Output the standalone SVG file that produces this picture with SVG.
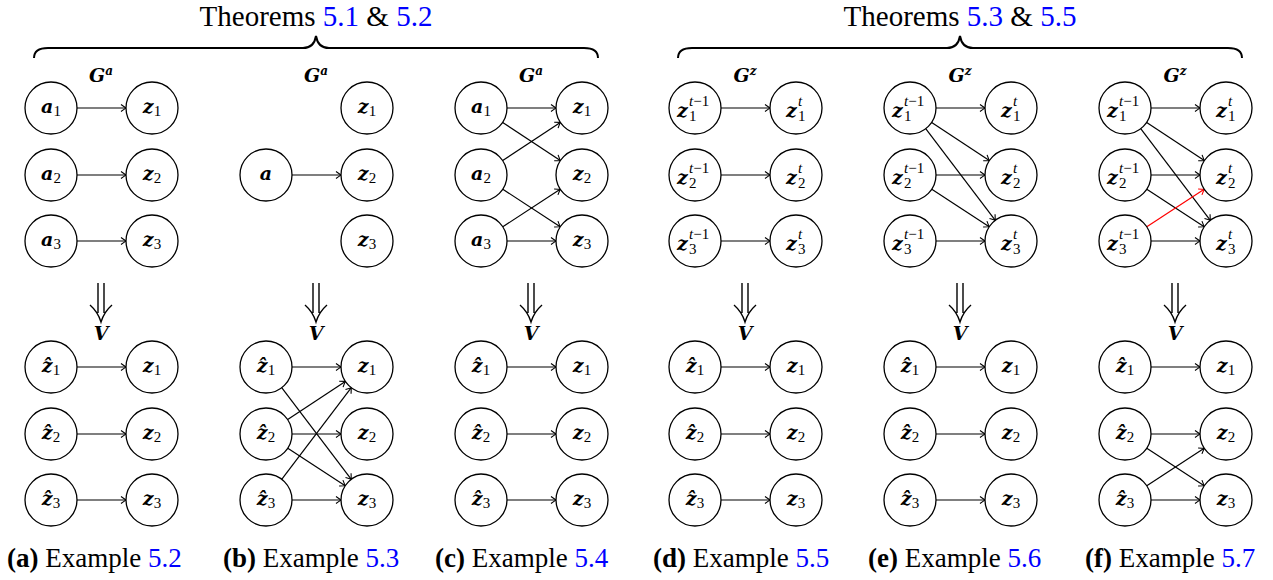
<svg xmlns="http://www.w3.org/2000/svg" width="1273" height="580" viewBox="0 0 1273 580">
<style>
.n circle{fill:#fff;stroke:#000;stroke-width:1.3}
.m{font-family:"DejaVu Serif",serif;font-weight:bold;font-style:italic;font-size:19px}
.s{font-family:"Liberation Serif",serif;font-size:15px;font-weight:normal;font-style:normal}
.si{font-style:italic}
.e{stroke:#000;stroke-width:1.2;fill:none;marker-end:url(#ah)}
.red{stroke:#f00;marker-end:url(#ahr)}
.cap{font-family:"Liberation Serif",serif;font-size:27px}
.b{font-weight:bold}
.lnk{fill:#0000ff}
.ttl{font-family:"Liberation Serif",serif;font-size:29px}
.brace{fill:none;stroke:#000;stroke-width:2}
.darr{fill:none;stroke:#000;stroke-width:1.4}
.g{font-family:"DejaVu Serif",serif;font-weight:bold;font-style:italic;font-size:19px}
.gs{font-size:12px}
</style>
<defs>
<marker id="ah" viewBox="-6 -5 8 10" refX="0" refY="0" markerWidth="8" markerHeight="10" markerUnits="userSpaceOnUse" orient="auto" overflow="visible"><path d="M-5,-3.5 Q-1.5,-1 0,0 Q-1.5,1 -5,3.5" fill="none" stroke="#000" stroke-width="1.1"/></marker>
<marker id="ahr" viewBox="-6 -5 8 10" refX="0" refY="0" markerWidth="8" markerHeight="10" markerUnits="userSpaceOnUse" orient="auto" overflow="visible"><path d="M-5,-3.5 Q-1.5,-1 0,0 Q-1.5,1 -5,3.5" fill="none" stroke="#f00" stroke-width="1.1"/></marker>
</defs>

<g id="titles">
<text class="ttl" x="316" y="26" text-anchor="middle">Theorems <tspan class="lnk">5.1</tspan> &amp; <tspan class="lnk">5.2</tspan></text>
<path class="brace" d="M34,58 Q34,48 48,48 L303,48 Q314,48 316,36 Q318,48 329,48 L584,48 Q598,48 598,58"/>
<text class="ttl" x="960" y="26" text-anchor="middle">Theorems <tspan class="lnk">5.3</tspan> &amp; <tspan class="lnk">5.5</tspan></text>
<path class="brace" d="M678,58 Q678,48 692,48 L947,48 Q958,48 960,36 Q962,48 973,48 L1228,48 Q1242,48 1242,58"/>
</g>

<g id="graph-labels">
<text class="g" x="101" y="82" text-anchor="middle">G<tspan class="gs" dy="-7">a</tspan></text>
<text class="g" x="316" y="82" text-anchor="middle">G<tspan class="gs" dy="-7">a</tspan></text>
<text class="g" x="531" y="82" text-anchor="middle">G<tspan class="gs" dy="-7">a</tspan></text>
<text class="g" x="745" y="82" text-anchor="middle">G<tspan class="gs" dy="-7">z</tspan></text>
<text class="g" x="960" y="82" text-anchor="middle">G<tspan class="gs" dy="-7">z</tspan></text>
<text class="g" x="1175" y="82" text-anchor="middle">G<tspan class="gs" dy="-7">z</tspan></text>
</g>

<g id="transforms">
<path class="darr" d="M98,283V313M104,283V313M90,305Q98,312 101,322Q104,312 112,305"/>
<path class="darr" d="M313,283V313M319,283V313M305,305Q313,312 316,322Q319,312 327,305"/>
<path class="darr" d="M528,283V313M534,283V313M520,305Q528,312 531,322Q534,312 542,305"/>
<path class="darr" d="M742,283V313M748,283V313M734,305Q742,312 745,322Q748,312 756,305"/>
<path class="darr" d="M957,283V313M963,283V313M949,305Q957,312 960,322Q963,312 971,305"/>
<path class="darr" d="M1172,283V313M1178,283V313M1164,305Q1172,312 1175,322Q1178,312 1186,305"/>
<text class="g" x="101" y="340" text-anchor="middle">V</text>
<text class="g" x="316" y="340" text-anchor="middle">V</text>
<text class="g" x="531" y="340" text-anchor="middle">V</text>
<text class="g" x="745" y="340" text-anchor="middle">V</text>
<text class="g" x="960" y="340" text-anchor="middle">V</text>
<text class="g" x="1175" y="340" text-anchor="middle">V</text>
</g>

<g id="connectors">
<line class="e" x1="77" y1="108" x2="126" y2="108"/>
<line class="e" x1="77" y1="175" x2="126" y2="175"/>
<line class="e" x1="77" y1="241" x2="126" y2="241"/>
<line class="e" x1="292" y1="175" x2="341" y2="175"/>
<line class="e" x1="507" y1="108" x2="556" y2="108"/>
<line class="e" x1="502.7" y1="122.4" x2="560.3" y2="160.6"/>
<line class="e" x1="502.7" y1="160.6" x2="560.3" y2="122.4"/>
<line class="e" x1="502.8" y1="189.2" x2="560.2" y2="226.8"/>
<line class="e" x1="502.8" y1="226.8" x2="560.2" y2="189.2"/>
<line class="e" x1="507" y1="241" x2="556" y2="241"/>
<line class="e" x1="721" y1="108" x2="770" y2="108"/>
<line class="e" x1="721" y1="175" x2="770" y2="175"/>
<line class="e" x1="721" y1="241" x2="770" y2="241"/>
<line class="e" x1="936" y1="108" x2="985" y2="108"/>
<line class="e" x1="931.7" y1="122.4" x2="989.3" y2="160.6"/>
<line class="e" x1="925.7" y1="128.7" x2="995.3" y2="220.3"/>
<line class="e" x1="936" y1="175" x2="985" y2="175"/>
<line class="e" x1="931.8" y1="189.2" x2="989.2" y2="226.8"/>
<line class="e" x1="936" y1="241" x2="985" y2="241"/>
<line class="e" x1="1151" y1="108" x2="1200" y2="108"/>
<line class="e" x1="1146.7" y1="122.4" x2="1204.3" y2="160.6"/>
<line class="e" x1="1140.7" y1="128.7" x2="1210.3" y2="220.3"/>
<line class="e" x1="1151" y1="175" x2="1200" y2="175"/>
<line class="e" x1="1146.8" y1="189.2" x2="1204.2" y2="226.8"/>
<line class="e red" x1="1146.8" y1="226.8" x2="1204.2" y2="189.2"/>
<line class="e" x1="1151" y1="241" x2="1200" y2="241"/>
<line class="e" x1="77" y1="367" x2="126" y2="367"/>
<line class="e" x1="77" y1="434" x2="126" y2="434"/>
<line class="e" x1="77" y1="500" x2="126" y2="500"/>
<line class="e" x1="292" y1="367" x2="341" y2="367"/>
<line class="e" x1="281.7" y1="387.7" x2="351.3" y2="479.3"/>
<line class="e" x1="287.7" y1="419.6" x2="345.3" y2="381.4"/>
<line class="e" x1="292" y1="434" x2="341" y2="434"/>
<line class="e" x1="287.8" y1="448.2" x2="345.2" y2="485.8"/>
<line class="e" x1="281.7" y1="479.3" x2="351.3" y2="387.7"/>
<line class="e" x1="292" y1="500" x2="341" y2="500"/>
<line class="e" x1="507" y1="367" x2="556" y2="367"/>
<line class="e" x1="507" y1="434" x2="556" y2="434"/>
<line class="e" x1="507" y1="500" x2="556" y2="500"/>
<line class="e" x1="721" y1="367" x2="770" y2="367"/>
<line class="e" x1="721" y1="434" x2="770" y2="434"/>
<line class="e" x1="721" y1="500" x2="770" y2="500"/>
<line class="e" x1="936" y1="367" x2="985" y2="367"/>
<line class="e" x1="936" y1="434" x2="985" y2="434"/>
<line class="e" x1="936" y1="500" x2="985" y2="500"/>
<line class="e" x1="1151" y1="367" x2="1200" y2="367"/>
<line class="e" x1="1151" y1="434" x2="1200" y2="434"/>
<line class="e" x1="1146.8" y1="448.2" x2="1204.2" y2="485.8"/>
<line class="e" x1="1146.8" y1="485.8" x2="1204.2" y2="448.2"/>
<line class="e" x1="1151" y1="500" x2="1200" y2="500"/>
</g>

<g id="a-a1" class="n"><circle cx="51" cy="108" r="26"/><text class="m" x="51" y="113" text-anchor="middle">a<tspan class="s" dy="3">1</tspan></text></g>
<g id="a-a2" class="n"><circle cx="51" cy="175" r="26"/><text class="m" x="51" y="180" text-anchor="middle">a<tspan class="s" dy="3">2</tspan></text></g>
<g id="a-a3" class="n"><circle cx="51" cy="241" r="26"/><text class="m" x="51" y="246" text-anchor="middle">a<tspan class="s" dy="3">3</tspan></text></g>
<g id="a-z1" class="n"><circle cx="152" cy="108" r="26"/><text class="m" x="152" y="113" text-anchor="middle">z<tspan class="s" dy="3">1</tspan></text></g>
<g id="a-z2" class="n"><circle cx="152" cy="175" r="26"/><text class="m" x="152" y="180" text-anchor="middle">z<tspan class="s" dy="3">2</tspan></text></g>
<g id="a-z3" class="n"><circle cx="152" cy="241" r="26"/><text class="m" x="152" y="246" text-anchor="middle">z<tspan class="s" dy="3">3</tspan></text></g>
<g id="b-a" class="n"><circle cx="266" cy="175" r="26"/><text class="m" x="266" y="180" text-anchor="middle">a</text></g>
<g id="b-z1" class="n"><circle cx="367" cy="108" r="26"/><text class="m" x="367" y="113" text-anchor="middle">z<tspan class="s" dy="3">1</tspan></text></g>
<g id="b-z2" class="n"><circle cx="367" cy="175" r="26"/><text class="m" x="367" y="180" text-anchor="middle">z<tspan class="s" dy="3">2</tspan></text></g>
<g id="b-z3" class="n"><circle cx="367" cy="241" r="26"/><text class="m" x="367" y="246" text-anchor="middle">z<tspan class="s" dy="3">3</tspan></text></g>
<g id="c-a1" class="n"><circle cx="481" cy="108" r="26"/><text class="m" x="481" y="113" text-anchor="middle">a<tspan class="s" dy="3">1</tspan></text></g>
<g id="c-a2" class="n"><circle cx="481" cy="175" r="26"/><text class="m" x="481" y="180" text-anchor="middle">a<tspan class="s" dy="3">2</tspan></text></g>
<g id="c-a3" class="n"><circle cx="481" cy="241" r="26"/><text class="m" x="481" y="246" text-anchor="middle">a<tspan class="s" dy="3">3</tspan></text></g>
<g id="c-z1" class="n"><circle cx="582" cy="108" r="26"/><text class="m" x="582" y="113" text-anchor="middle">z<tspan class="s" dy="3">1</tspan></text></g>
<g id="c-z2" class="n"><circle cx="582" cy="175" r="26"/><text class="m" x="582" y="180" text-anchor="middle">z<tspan class="s" dy="3">2</tspan></text></g>
<g id="c-z3" class="n"><circle cx="582" cy="241" r="26"/><text class="m" x="582" y="246" text-anchor="middle">z<tspan class="s" dy="3">3</tspan></text></g>
<g id="d-zp1" class="n"><circle cx="695" cy="108" r="26"/><text class="m" x="677" y="117">z<tspan class="s" x="689" y="106"><tspan class="si">t</tspan>−1</tspan><tspan class="s" x="689" y="121">1</tspan></text></g>
<g id="d-zp2" class="n"><circle cx="695" cy="175" r="26"/><text class="m" x="677" y="184">z<tspan class="s" x="689" y="173"><tspan class="si">t</tspan>−1</tspan><tspan class="s" x="689" y="188">2</tspan></text></g>
<g id="d-zp3" class="n"><circle cx="695" cy="241" r="26"/><text class="m" x="677" y="250">z<tspan class="s" x="689" y="239"><tspan class="si">t</tspan>−1</tspan><tspan class="s" x="689" y="254">3</tspan></text></g>
<g id="d-zt1" class="n"><circle cx="796" cy="108" r="26"/><text class="m" x="786" y="117">z<tspan class="s si" x="798" y="106">t</tspan><tspan class="s" x="798" y="121">1</tspan></text></g>
<g id="d-zt2" class="n"><circle cx="796" cy="175" r="26"/><text class="m" x="786" y="184">z<tspan class="s si" x="798" y="173">t</tspan><tspan class="s" x="798" y="188">2</tspan></text></g>
<g id="d-zt3" class="n"><circle cx="796" cy="241" r="26"/><text class="m" x="786" y="250">z<tspan class="s si" x="798" y="239">t</tspan><tspan class="s" x="798" y="254">3</tspan></text></g>
<g id="e-zp1" class="n"><circle cx="910" cy="108" r="26"/><text class="m" x="892" y="117">z<tspan class="s" x="904" y="106"><tspan class="si">t</tspan>−1</tspan><tspan class="s" x="904" y="121">1</tspan></text></g>
<g id="e-zp2" class="n"><circle cx="910" cy="175" r="26"/><text class="m" x="892" y="184">z<tspan class="s" x="904" y="173"><tspan class="si">t</tspan>−1</tspan><tspan class="s" x="904" y="188">2</tspan></text></g>
<g id="e-zp3" class="n"><circle cx="910" cy="241" r="26"/><text class="m" x="892" y="250">z<tspan class="s" x="904" y="239"><tspan class="si">t</tspan>−1</tspan><tspan class="s" x="904" y="254">3</tspan></text></g>
<g id="e-zt1" class="n"><circle cx="1011" cy="108" r="26"/><text class="m" x="1001" y="117">z<tspan class="s si" x="1013" y="106">t</tspan><tspan class="s" x="1013" y="121">1</tspan></text></g>
<g id="e-zt2" class="n"><circle cx="1011" cy="175" r="26"/><text class="m" x="1001" y="184">z<tspan class="s si" x="1013" y="173">t</tspan><tspan class="s" x="1013" y="188">2</tspan></text></g>
<g id="e-zt3" class="n"><circle cx="1011" cy="241" r="26"/><text class="m" x="1001" y="250">z<tspan class="s si" x="1013" y="239">t</tspan><tspan class="s" x="1013" y="254">3</tspan></text></g>
<g id="f-zp1" class="n"><circle cx="1125" cy="108" r="26"/><text class="m" x="1107" y="117">z<tspan class="s" x="1119" y="106"><tspan class="si">t</tspan>−1</tspan><tspan class="s" x="1119" y="121">1</tspan></text></g>
<g id="f-zp2" class="n"><circle cx="1125" cy="175" r="26"/><text class="m" x="1107" y="184">z<tspan class="s" x="1119" y="173"><tspan class="si">t</tspan>−1</tspan><tspan class="s" x="1119" y="188">2</tspan></text></g>
<g id="f-zp3" class="n"><circle cx="1125" cy="241" r="26"/><text class="m" x="1107" y="250">z<tspan class="s" x="1119" y="239"><tspan class="si">t</tspan>−1</tspan><tspan class="s" x="1119" y="254">3</tspan></text></g>
<g id="f-zt1" class="n"><circle cx="1226" cy="108" r="26"/><text class="m" x="1216" y="117">z<tspan class="s si" x="1228" y="106">t</tspan><tspan class="s" x="1228" y="121">1</tspan></text></g>
<g id="f-zt2" class="n"><circle cx="1226" cy="175" r="26"/><text class="m" x="1216" y="184">z<tspan class="s si" x="1228" y="173">t</tspan><tspan class="s" x="1228" y="188">2</tspan></text></g>
<g id="f-zt3" class="n"><circle cx="1226" cy="241" r="26"/><text class="m" x="1216" y="250">z<tspan class="s si" x="1228" y="239">t</tspan><tspan class="s" x="1228" y="254">3</tspan></text></g>

<g id="a-zh1" class="n"><circle cx="51" cy="367" r="26"/><text class="m" x="51" y="372" text-anchor="middle">ẑ<tspan class="s" dy="3">1</tspan></text></g>
<g id="a-zh2" class="n"><circle cx="51" cy="434" r="26"/><text class="m" x="51" y="439" text-anchor="middle">ẑ<tspan class="s" dy="3">2</tspan></text></g>
<g id="a-zh3" class="n"><circle cx="51" cy="500" r="26"/><text class="m" x="51" y="505" text-anchor="middle">ẑ<tspan class="s" dy="3">3</tspan></text></g>
<g id="a-zb1" class="n"><circle cx="152" cy="367" r="26"/><text class="m" x="152" y="372" text-anchor="middle">z<tspan class="s" dy="3">1</tspan></text></g>
<g id="a-zb2" class="n"><circle cx="152" cy="434" r="26"/><text class="m" x="152" y="439" text-anchor="middle">z<tspan class="s" dy="3">2</tspan></text></g>
<g id="a-zb3" class="n"><circle cx="152" cy="500" r="26"/><text class="m" x="152" y="505" text-anchor="middle">z<tspan class="s" dy="3">3</tspan></text></g>
<g id="b-zh1" class="n"><circle cx="266" cy="367" r="26"/><text class="m" x="266" y="372" text-anchor="middle">ẑ<tspan class="s" dy="3">1</tspan></text></g>
<g id="b-zh2" class="n"><circle cx="266" cy="434" r="26"/><text class="m" x="266" y="439" text-anchor="middle">ẑ<tspan class="s" dy="3">2</tspan></text></g>
<g id="b-zh3" class="n"><circle cx="266" cy="500" r="26"/><text class="m" x="266" y="505" text-anchor="middle">ẑ<tspan class="s" dy="3">3</tspan></text></g>
<g id="b-zb1" class="n"><circle cx="367" cy="367" r="26"/><text class="m" x="367" y="372" text-anchor="middle">z<tspan class="s" dy="3">1</tspan></text></g>
<g id="b-zb2" class="n"><circle cx="367" cy="434" r="26"/><text class="m" x="367" y="439" text-anchor="middle">z<tspan class="s" dy="3">2</tspan></text></g>
<g id="b-zb3" class="n"><circle cx="367" cy="500" r="26"/><text class="m" x="367" y="505" text-anchor="middle">z<tspan class="s" dy="3">3</tspan></text></g>
<g id="c-zh1" class="n"><circle cx="481" cy="367" r="26"/><text class="m" x="481" y="372" text-anchor="middle">ẑ<tspan class="s" dy="3">1</tspan></text></g>
<g id="c-zh2" class="n"><circle cx="481" cy="434" r="26"/><text class="m" x="481" y="439" text-anchor="middle">ẑ<tspan class="s" dy="3">2</tspan></text></g>
<g id="c-zh3" class="n"><circle cx="481" cy="500" r="26"/><text class="m" x="481" y="505" text-anchor="middle">ẑ<tspan class="s" dy="3">3</tspan></text></g>
<g id="c-zb1" class="n"><circle cx="582" cy="367" r="26"/><text class="m" x="582" y="372" text-anchor="middle">z<tspan class="s" dy="3">1</tspan></text></g>
<g id="c-zb2" class="n"><circle cx="582" cy="434" r="26"/><text class="m" x="582" y="439" text-anchor="middle">z<tspan class="s" dy="3">2</tspan></text></g>
<g id="c-zb3" class="n"><circle cx="582" cy="500" r="26"/><text class="m" x="582" y="505" text-anchor="middle">z<tspan class="s" dy="3">3</tspan></text></g>
<g id="d-zh1" class="n"><circle cx="695" cy="367" r="26"/><text class="m" x="695" y="372" text-anchor="middle">ẑ<tspan class="s" dy="3">1</tspan></text></g>
<g id="d-zh2" class="n"><circle cx="695" cy="434" r="26"/><text class="m" x="695" y="439" text-anchor="middle">ẑ<tspan class="s" dy="3">2</tspan></text></g>
<g id="d-zh3" class="n"><circle cx="695" cy="500" r="26"/><text class="m" x="695" y="505" text-anchor="middle">ẑ<tspan class="s" dy="3">3</tspan></text></g>
<g id="d-zb1" class="n"><circle cx="796" cy="367" r="26"/><text class="m" x="796" y="372" text-anchor="middle">z<tspan class="s" dy="3">1</tspan></text></g>
<g id="d-zb2" class="n"><circle cx="796" cy="434" r="26"/><text class="m" x="796" y="439" text-anchor="middle">z<tspan class="s" dy="3">2</tspan></text></g>
<g id="d-zb3" class="n"><circle cx="796" cy="500" r="26"/><text class="m" x="796" y="505" text-anchor="middle">z<tspan class="s" dy="3">3</tspan></text></g>
<g id="e-zh1" class="n"><circle cx="910" cy="367" r="26"/><text class="m" x="910" y="372" text-anchor="middle">ẑ<tspan class="s" dy="3">1</tspan></text></g>
<g id="e-zh2" class="n"><circle cx="910" cy="434" r="26"/><text class="m" x="910" y="439" text-anchor="middle">ẑ<tspan class="s" dy="3">2</tspan></text></g>
<g id="e-zh3" class="n"><circle cx="910" cy="500" r="26"/><text class="m" x="910" y="505" text-anchor="middle">ẑ<tspan class="s" dy="3">3</tspan></text></g>
<g id="e-zb1" class="n"><circle cx="1011" cy="367" r="26"/><text class="m" x="1011" y="372" text-anchor="middle">z<tspan class="s" dy="3">1</tspan></text></g>
<g id="e-zb2" class="n"><circle cx="1011" cy="434" r="26"/><text class="m" x="1011" y="439" text-anchor="middle">z<tspan class="s" dy="3">2</tspan></text></g>
<g id="e-zb3" class="n"><circle cx="1011" cy="500" r="26"/><text class="m" x="1011" y="505" text-anchor="middle">z<tspan class="s" dy="3">3</tspan></text></g>
<g id="f-zh1" class="n"><circle cx="1125" cy="367" r="26"/><text class="m" x="1125" y="372" text-anchor="middle">ẑ<tspan class="s" dy="3">1</tspan></text></g>
<g id="f-zh2" class="n"><circle cx="1125" cy="434" r="26"/><text class="m" x="1125" y="439" text-anchor="middle">ẑ<tspan class="s" dy="3">2</tspan></text></g>
<g id="f-zh3" class="n"><circle cx="1125" cy="500" r="26"/><text class="m" x="1125" y="505" text-anchor="middle">ẑ<tspan class="s" dy="3">3</tspan></text></g>
<g id="f-zb1" class="n"><circle cx="1226" cy="367" r="26"/><text class="m" x="1226" y="372" text-anchor="middle">z<tspan class="s" dy="3">1</tspan></text></g>
<g id="f-zb2" class="n"><circle cx="1226" cy="434" r="26"/><text class="m" x="1226" y="439" text-anchor="middle">z<tspan class="s" dy="3">2</tspan></text></g>
<g id="f-zb3" class="n"><circle cx="1226" cy="500" r="26"/><text class="m" x="1226" y="505" text-anchor="middle">z<tspan class="s" dy="3">3</tspan></text></g>

<g id="captions" class="cap">
<text x="7" y="567"><tspan class="b">(a)</tspan> Example <tspan class="lnk">5.2</tspan></text>
<text x="223" y="567"><tspan class="b">(b)</tspan> Example <tspan class="lnk">5.3</tspan></text>
<text x="435" y="567"><tspan class="b">(c)</tspan> Example <tspan class="lnk">5.4</tspan></text>
<text x="653" y="567"><tspan class="b">(d)</tspan> Example <tspan class="lnk">5.5</tspan></text>
<text x="868" y="567"><tspan class="b">(e)</tspan> Example <tspan class="lnk">5.6</tspan></text>
<text x="1085" y="567"><tspan class="b">(f)</tspan> Example <tspan class="lnk">5.7</tspan></text>
</g>
</svg>
